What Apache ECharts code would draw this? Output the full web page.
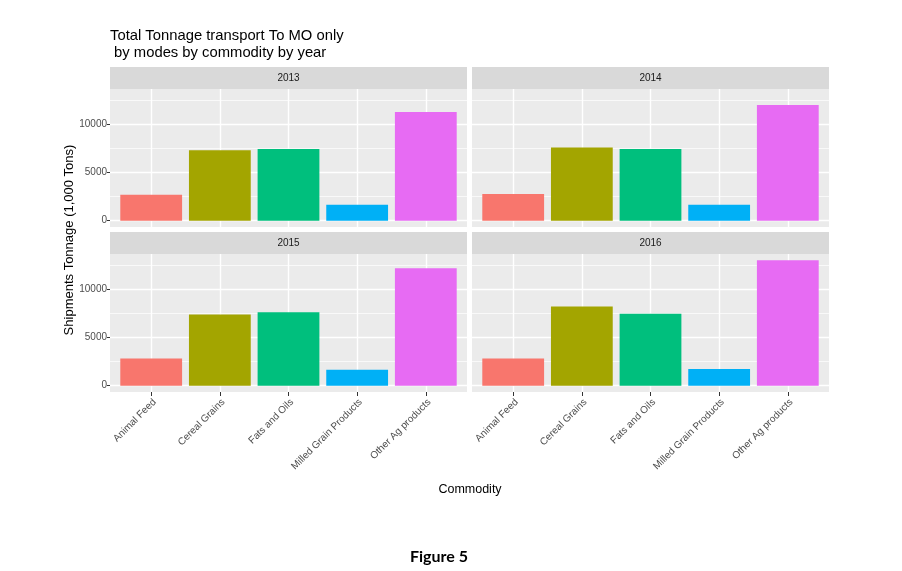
<!DOCTYPE html>
<html><head><meta charset="utf-8">
<script src="https://cdn.jsdelivr.net/npm/echarts@6/dist/echarts.min.js"></script>
<style>html,body{margin:0;padding:0;background:#fff}#c{width:902px;height:571px}</style>
</head><body><div id="c"></div>
<script>
// ---- data ----
const years = ['2013', '2014', '2015', '2016'];
const commodities = ['Animal Feed', 'Cereal Grains', 'Fats and Oils', 'Milled Grain Products', 'Other Ag products'];
const tons2013 = [2700, 7330, 7440, 1660, 11300];
const tons2014 = [2770, 7600, 7440, 1660, 12030];
const tons2015 = [2840, 7410, 7620, 1660, 12190];
const tons2016 = [2840, 8240, 7480, 1730, 13030];
const yTickValues = [0, 5000, 10000];
const titleText = 'Total Tonnage transport To MO only\n by modes by commodity by year';
const yTitle = 'Shipments Tonnage (1,000 Tons)';
const xTitle = 'Commodity';
const figureCaption = 'Figure 5';

// ---- styles ----
const commodityColors = ['#F8766D', '#A3A500', '#00BF7D', '#00B0F6', '#E76BF3'];
const FONT = '"Liberation Sans", Arial, sans-serif';
const seriesByYear = [tons2013, tons2014, tons2015, tons2016];

const maxV = Math.max(...seriesByYear.flat());
const pad = maxV * 0.05;
const lo = -pad, hi = maxV + pad, span = hi - lo;
const majorStep = yTickValues[1] - yTickValues[0];
const majorMax = yTickValues[yTickValues.length - 1];
const minorStep = majorStep / 2;
const minorMax = Math.floor(hi / minorStep) * minorStep;

const PW = 357, PH = 138, STRIP = 22;
const panelPos = [[110, 89, true, false], [472, 89, false, false], [110, 254, true, true], [472, 254, false, true]];
const unit = PW / (commodities.length + 0.2);

const grids = [], xAxes = [], yAxes = [], series = [], graphics = [];
function addGrid(g) { grids.push(Object.assign({ outerBoundsMode: 'none', containLabel: false, borderWidth: 0 }, g)); return grids.length - 1; }
function hiddenX(gi) { xAxes.push({ gridIndex: gi, type: 'value', show: false, min: 0, max: 1 }); return xAxes.length - 1; }

panelPos.forEach(([x, y, isLeft, isBottom], p) => {
  // panel background
  const gP = addGrid({ left: x, top: y, width: PW, height: PH, show: true, backgroundColor: '#EBEBEB' });
  hiddenX(gP);
  yAxes.push({ gridIndex: gP, type: 'value', show: false, min: 0, max: 1 });

  // minor grid lines
  const gm = addGrid({ left: x, top: y + PH * (hi - minorMax) / span, width: PW, height: PH * minorMax / span });
  hiddenX(gm);
  yAxes.push({ gridIndex: gm, type: 'value', min: 0, max: minorMax, interval: minorStep,
    axisLine: { show: false }, axisTick: { show: false }, axisLabel: { show: false },
    splitLine: { show: true, lineStyle: { color: '#FFFFFF', width: 0.7 } } });

  // major grid lines + labels
  const gM = addGrid({ left: x, top: y + PH * (hi - majorMax) / span, width: PW, height: PH * majorMax / span });
  hiddenX(gM);
  yAxes.push({ gridIndex: gM, type: 'value', min: 0, max: majorMax, interval: majorStep,
    axisLine: { show: false },
    axisTick: { show: isLeft, length: 3, lineStyle: { color: '#333333', width: 1 } },
    axisLabel: { show: isLeft, fontSize: 10, color: '#4D4D4D', margin: 3, fontFamily: FONT, formatter: v => String(v) },
    splitLine: { show: true, lineStyle: { color: '#FFFFFF', width: 1.4 } } });

  // bars
  const gC = addGrid({ left: x + 0.1 * unit, top: y, width: commodities.length * unit, height: PH });
  xAxes.push({ gridIndex: gC, type: 'category', data: commodities, position: 'bottom',
    axisLine: { show: false, onZero: false },
    axisTick: { show: true, inside: true, length: PH, alignWithLabel: true, interval: 0, lineStyle: { color: '#FFFFFF', width: 1.4 } },
    axisLabel: { show: false }, splitLine: { show: false } });
  const xi = xAxes.length - 1;
  if (isBottom) {
    xAxes.push({ gridIndex: gC, type: 'category', data: commodities, position: 'bottom',
      axisLine: { show: false, onZero: false },
      axisTick: { show: true, length: 4, alignWithLabel: true, interval: 0, lineStyle: { color: '#333333', width: 1 } },
      axisLabel: { show: true, interval: 0, rotate: 45, fontSize: 10, color: '#4D4D4D', margin: 5, verticalAlign: 'top', fontFamily: FONT },
      splitLine: { show: false } });
  }
  yAxes.push({ gridIndex: gC, type: 'value', show: false, min: lo, max: hi });
  const yi = yAxes.length - 1;
  series.push({ type: 'bar', xAxisIndex: xi, yAxisIndex: yi, barWidth: '90%', silent: true,
    data: seriesByYear[p].map((v, k) => ({ value: v, itemStyle: { color: commodityColors[k] } })) });

  // strip
  graphics.push({ type: 'rect', shape: { x: x, y: y - STRIP, width: PW, height: STRIP }, style: { fill: '#D9D9D9' } });
  graphics.push({ type: 'text', x: x + PW / 2, y: y - STRIP / 2,
    style: { text: years[p], fill: '#1A1A1A', font: '10px ' + FONT, align: 'center', verticalAlign: 'middle', textAlign: 'center', textVerticalAlign: 'middle' } });
});

graphics.push({ type: 'text', x: 69, y: 240, rotation: Math.PI / 2,
  style: { text: yTitle, fill: '#000000', font: '13px ' + FONT, align: 'center', verticalAlign: 'middle', textAlign: 'center', textVerticalAlign: 'middle' } });
graphics.push({ type: 'text', x: 470, y: 490,
  style: { text: xTitle, fill: '#000000', font: '12.5px ' + FONT, align: 'center', verticalAlign: 'middle', textAlign: 'center', textVerticalAlign: 'middle' } });
graphics.push({ type: 'text', x: 439, y: 557,
  style: { text: figureCaption, fill: '#000000', font: 'bold 16px Lato, "Open Sans", sans-serif', align: 'center', verticalAlign: 'middle', textAlign: 'center', textVerticalAlign: 'middle' } });

const chart = echarts.init(document.getElementById('c'), null, { renderer: 'canvas' });
chart.setOption({
  animation: false,
  backgroundColor: '#FFFFFF',
  textStyle: { fontFamily: FONT },
  title: { text: titleText, left: 110, top: 28, padding: 0,
    textStyle: { fontSize: 14.8, fontWeight: 'normal', color: '#000000', fontFamily: FONT, lineHeight: 16.5 } },
  grid: grids, xAxis: xAxes, yAxis: yAxes, series: series,
  graphic: { elements: graphics }
});
</script>
</body></html>
